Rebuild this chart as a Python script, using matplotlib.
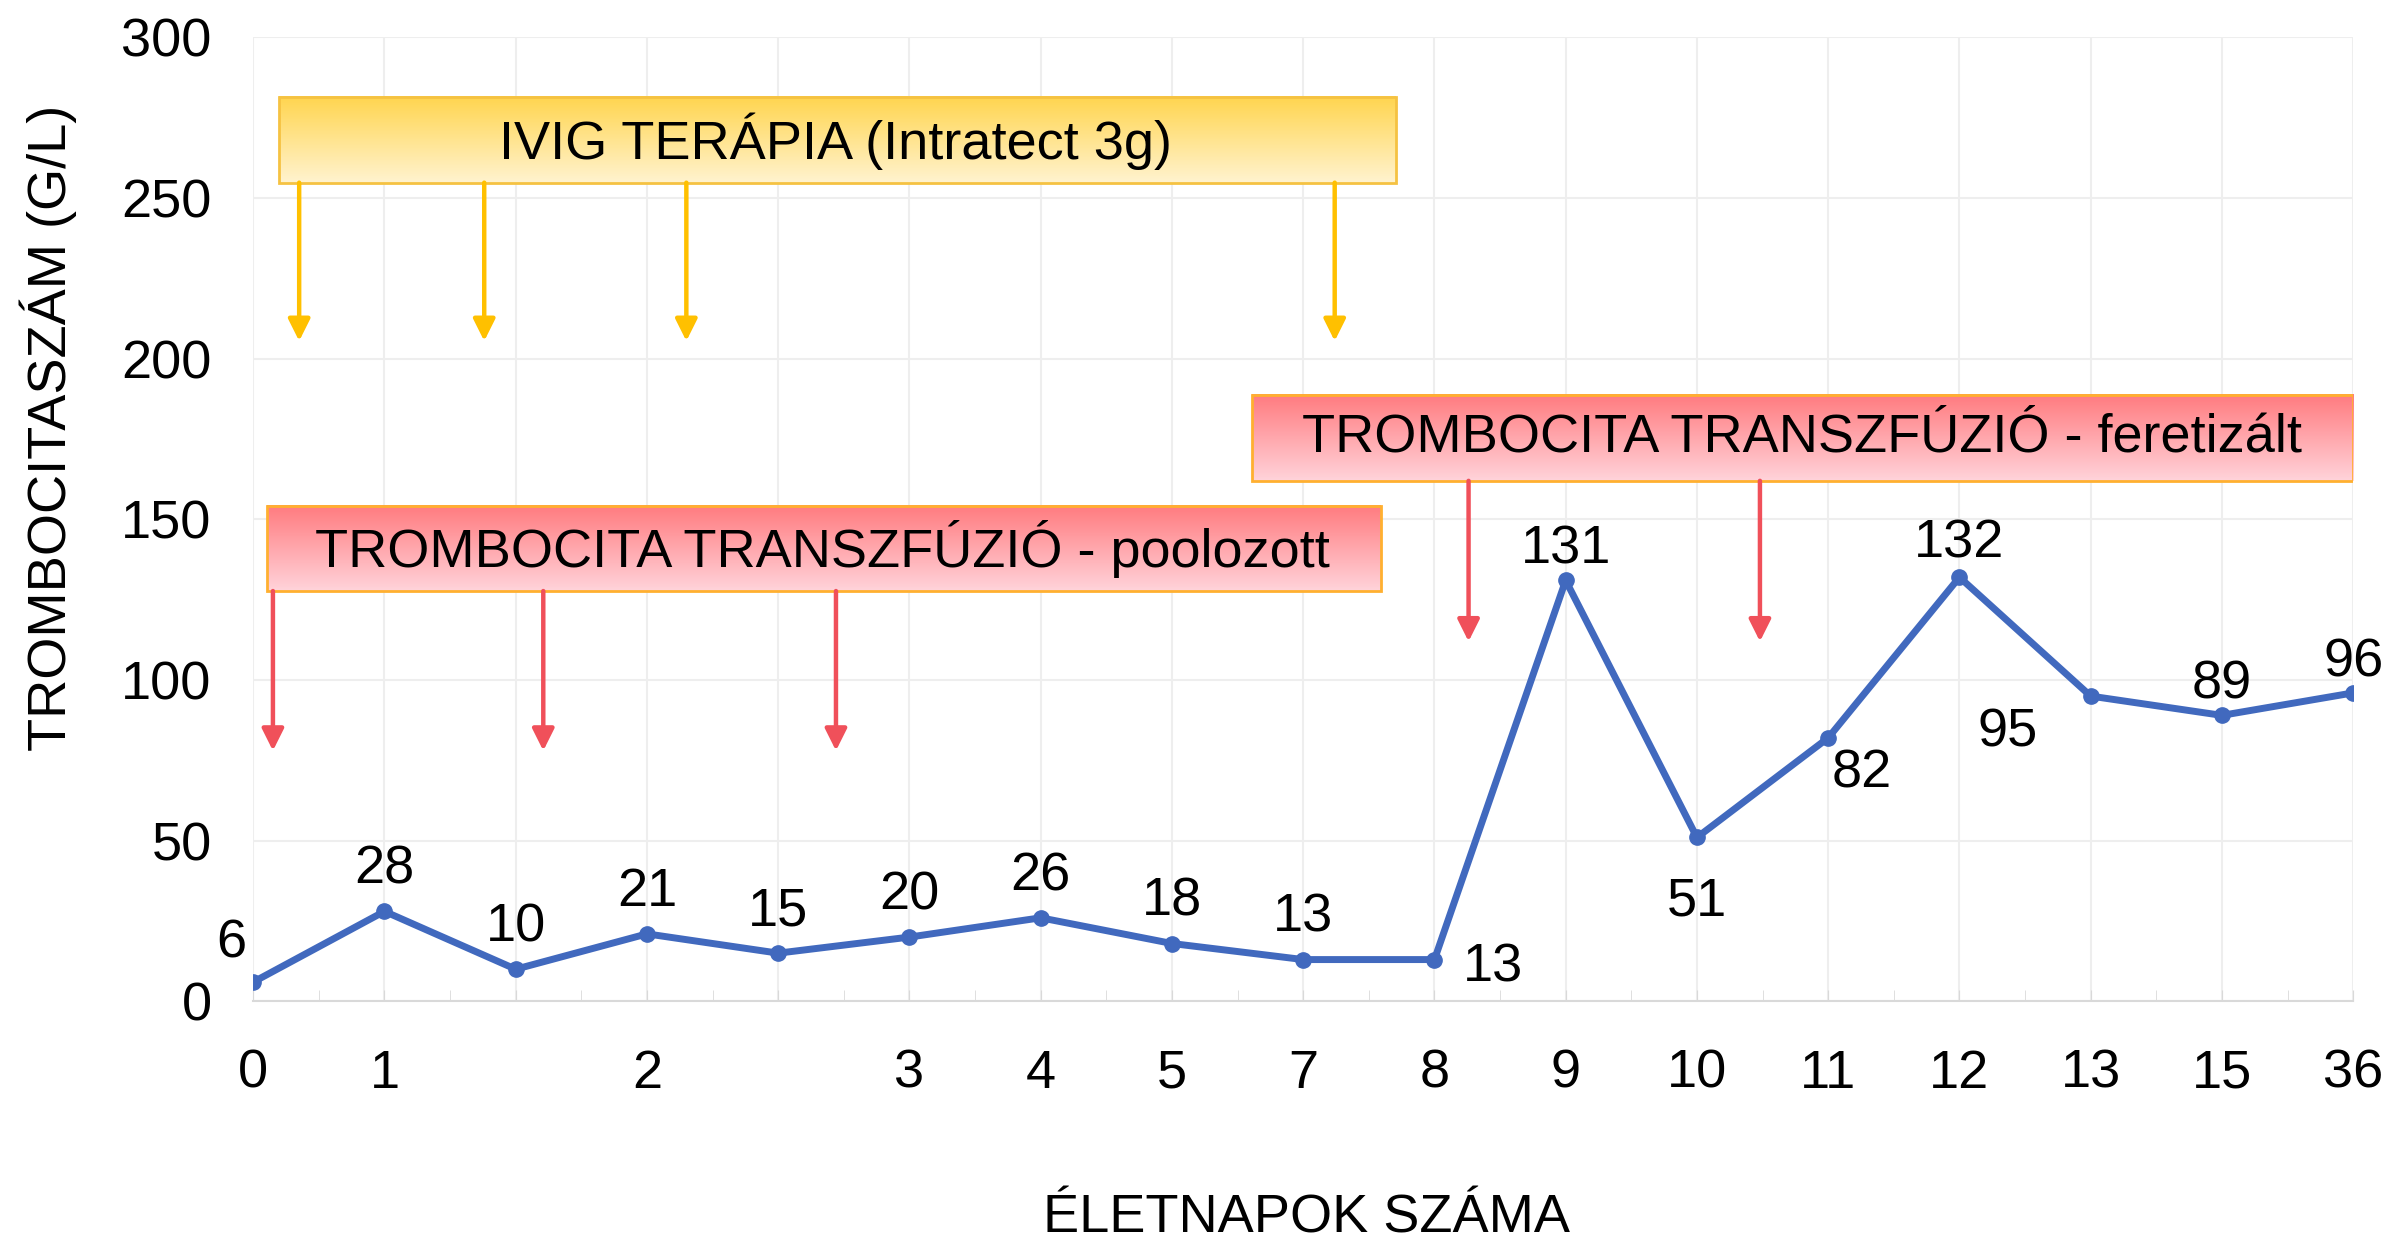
import numpy as np
import matplotlib.pyplot as plt
from matplotlib.patches import Rectangle

plt.rcParams["font.family"] = ["Liberation Sans", "DejaVu Sans"]

# category axis: one position per measurement, some days have two measurements
day_labels = ["0", "1", "", "2", "", "3", "4", "5", "7", "8", "9", "10", "11", "12", "13", "15", "36"]
platelets = [6, 28, 10, 21, 15, 20, 26, 18, 13, 13, 131, 51, 82, 132, 95, 89, 96]

# where each value label sits relative to its point (offset points)
label_offsets = [(-16, 28), (0, 30), (0, 30), (0, 30), (0, 30), (0, 30), (0, 30), (0, 30), (0, 30),
                 (42, -6), (0, 22), (0, -46), (24, -26), (0, 24), (-60, -26), (0, 22), (0, 22)]

ivig_text = "IVIG TERÁPIA (Intratect 3g)"
ivig_arrows_x = [0.35, 1.76, 3.30, 8.24]
pooled_text = "TROMBOCITA TRANSZFÚZIÓ - poolozott"
pooled_arrows_x = [0.15, 2.21, 4.44]
apheresis_text = "TROMBOCITA TRANSZFÚZIÓ - feretizált"
apheresis_arrows_x = [9.26, 11.48]

LINE = "#4169BE"
GOLD = "#FFC000"
RED = "#F0505A"
FS = 39


def gradient_box(ax, x0, x1, y0, y1, top, bottom, edge, text, tx, ty, fs=FS):
    c_top = np.array(plt.matplotlib.colors.to_rgb(top))
    c_bot = np.array(plt.matplotlib.colors.to_rgb(bottom))
    t = np.linspace(0, 1, 64)[:, None]
    img = (c_top * (1 - t) + c_bot * t)[:, None, :]
    ax.imshow(img, extent=(x0, x1, y0, y1), origin="upper", aspect="auto", zorder=3)
    ax.add_patch(Rectangle((x0, y0), x1 - x0, y1 - y0, fill=False, edgecolor=edge, lw=2, zorder=4))
    ax.text(tx, ty, text, ha="center", va="center", fontsize=fs, zorder=5)


def down_arrows(ax, xs, y_from, y_to, color):
    for x in xs:
        ax.annotate("", xy=(x, y_to), xytext=(x, y_from),
                    arrowprops=dict(arrowstyle="-|>,head_length=0.6,head_width=0.3", color=color,
                                    lw=3.2, mutation_scale=22, shrinkA=0, shrinkB=0), zorder=4)


fig = plt.figure(figsize=(23.89, 12.47), dpi=100)
ax = fig.add_axes([0.106, 0.197, 0.879, 0.773])

x = np.arange(len(platelets))
ax.plot(x, platelets, color=LINE, lw=5, marker="o", markersize=11, zorder=6)
for xi, v, off in zip(x, platelets, label_offsets):
    ax.annotate(str(v), (xi, v), xytext=off, textcoords="offset points",
                ha="center", va="center", fontsize=FS, zorder=7)

gradient_box(ax, 0.2, 8.71, 254.8, 281.6, "#FFD54F", "#FFF3CF", "#F5C242", ivig_text, 4.44, 267.6)
down_arrows(ax, ivig_arrows_x, 254.8, 205.5, GOLD)

gradient_box(ax, 0.107, 8.59, 127.7, 154.2, "#FF7B7F", "#FFD3DA", "#FFB030", pooled_text, 4.34, 140.8)
down_arrows(ax, pooled_arrows_x, 127.7, 78, RED)

gradient_box(ax, 7.61, 16.0, 162.0, 188.8, "#FF7B7F", "#FFD3DA", "#FFB030", apheresis_text, 11.8, 175.4)
down_arrows(ax, apheresis_arrows_x, 162.0, 112, RED)

ax.set_xlim(0, len(platelets) - 1)
ax.set_ylim(0, 300)
ax.set_xticks(x)
ax.set_xticklabels(day_labels)
ax.set_xticks(x[:-1] + 0.5, minor=True)
ax.set_yticks(range(0, 301, 50))
ax.grid(True, color="#EEEEEE", lw=1.5, zorder=0)
ax.set_axisbelow(True)
for s in ["top", "right", "left"]:
    ax.spines[s].set_visible(False)
ax.spines["bottom"].set_color("#D9D9D9")
ax.spines["bottom"].set_linewidth(1.5)
ax.tick_params(axis="x", which="both", direction="in", length=8, color="#D9D9D9", labelsize=FS, pad=34)
ax.tick_params(axis="y", length=0, labelsize=FS, pad=30)

fig.text(0.547, 0.003, "ÉLETNAPOK SZÁMA", ha="center", va="bottom", fontsize=FS)
fig.text(0.020, 0.657, "TROMBOCITASZÁM (G/L)", ha="center", va="center", rotation=90, fontsize=FS)

fig.savefig("out.png", dpi=100)
